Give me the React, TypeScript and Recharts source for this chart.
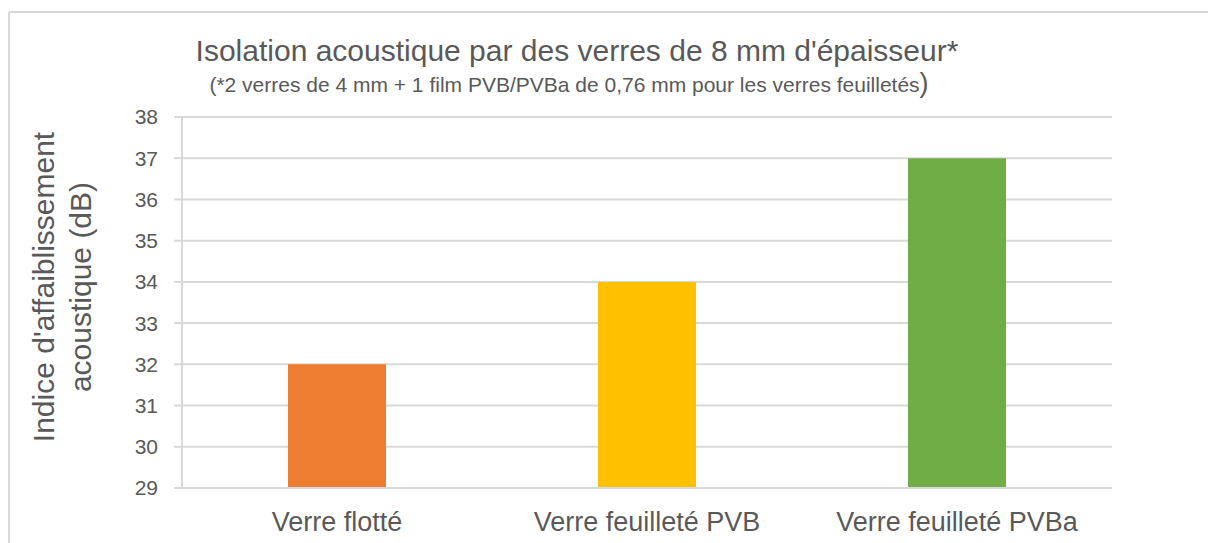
// Isolation acoustique chart, recharts bar chart with per-bar colours
import { BarChart, Bar, XAxis, YAxis, CartesianGrid, Cell } from 'recharts';

const categories = ['Verre flotté', 'Verre feuilleté PVB', 'Verre feuilleté PVBa'];
const values = [32, 34, 37];
const barColors = ['#ED7D31', '#FFC000', '#70AD47'];
const yTicks = [29, 30, 31, 32, 33, 34, 35, 36, 37, 38];

const FONT = '"Liberation Sans", Arial, sans-serif';
const TEXT = '#595959';
const GRID = '#d9d9d9';

export default function App() {
  const chartData = categories.map((name, i) => ({ name, value: values[i] }));

  return (
    <div style={{ position: 'absolute', left: 0, top: 0, width: 1208, height: 543, background: '#fff' }}>
      <BarChart
        width={1208}
        height={543}
        data={chartData}
        margin={{ top: 117, right: 96, bottom: 5, left: 122 }}
      >
        <CartesianGrid vertical={false} stroke={GRID} strokeWidth={2} />
        <XAxis
          dataKey="name"
          height={50}
          tickLine={false}
          axisLine={{ stroke: GRID, strokeWidth: 2 }}
          tickMargin={18}
          tick={{ fill: TEXT, fontSize: 27, fontFamily: FONT }}
          interval={0}
        />
        <YAxis
          width={60}
          domain={[29, 38]}
          ticks={yTicks}
          interval={0}
          tickSize={8}
          tickMargin={16}
          tickLine={{ stroke: GRID, strokeWidth: 2 }}
          axisLine={{ stroke: GRID, strokeWidth: 2 }}
          tick={{ fill: TEXT, fontSize: 21, fontFamily: FONT }}
        />
        <Bar dataKey="value" barSize={98} isAnimationActive={false}>
          {chartData.map((d, i) => (
            <Cell key={d.name} fill={barColors[i]} />
          ))}
        </Bar>
      </BarChart>

      {/* titles, axis title and frame drawn on top */}
      <svg
        width={1208}
        height={543}
        style={{ position: 'absolute', left: 0, top: 0, pointerEvents: 'none' }}
        fontFamily={FONT}
        fill={TEXT}
      >
        <line x1={9} y1={12} x2={1208} y2={12} stroke={GRID} strokeWidth={2} />
        <line x1={9} y1={12} x2={9} y2={543} stroke={GRID} strokeWidth={2} />
        <text x={577} y={61} textAnchor="middle" fontSize={30}>
          Isolation acoustique par des verres de 8 mm d'épaisseur*
        </text>
        <text x={569} y={92} textAnchor="middle" fontSize={21}>
          (*2 verres de 4 mm + 1 film PVB/PVBa de 0,76 mm pour les verres feuilletés
          <tspan fontSize={27}>)</tspan>
        </text>
        <g transform="translate(62, 287) rotate(-90)">
          <text x={0} y={-8} textAnchor="middle" fontSize={30}>
            Indice d'affaiblissement
          </text>
          <text x={0} y={29} textAnchor="middle" fontSize={30}>
            acoustique (dB)
          </text>
        </g>
      </svg>
    </div>
  );
}
